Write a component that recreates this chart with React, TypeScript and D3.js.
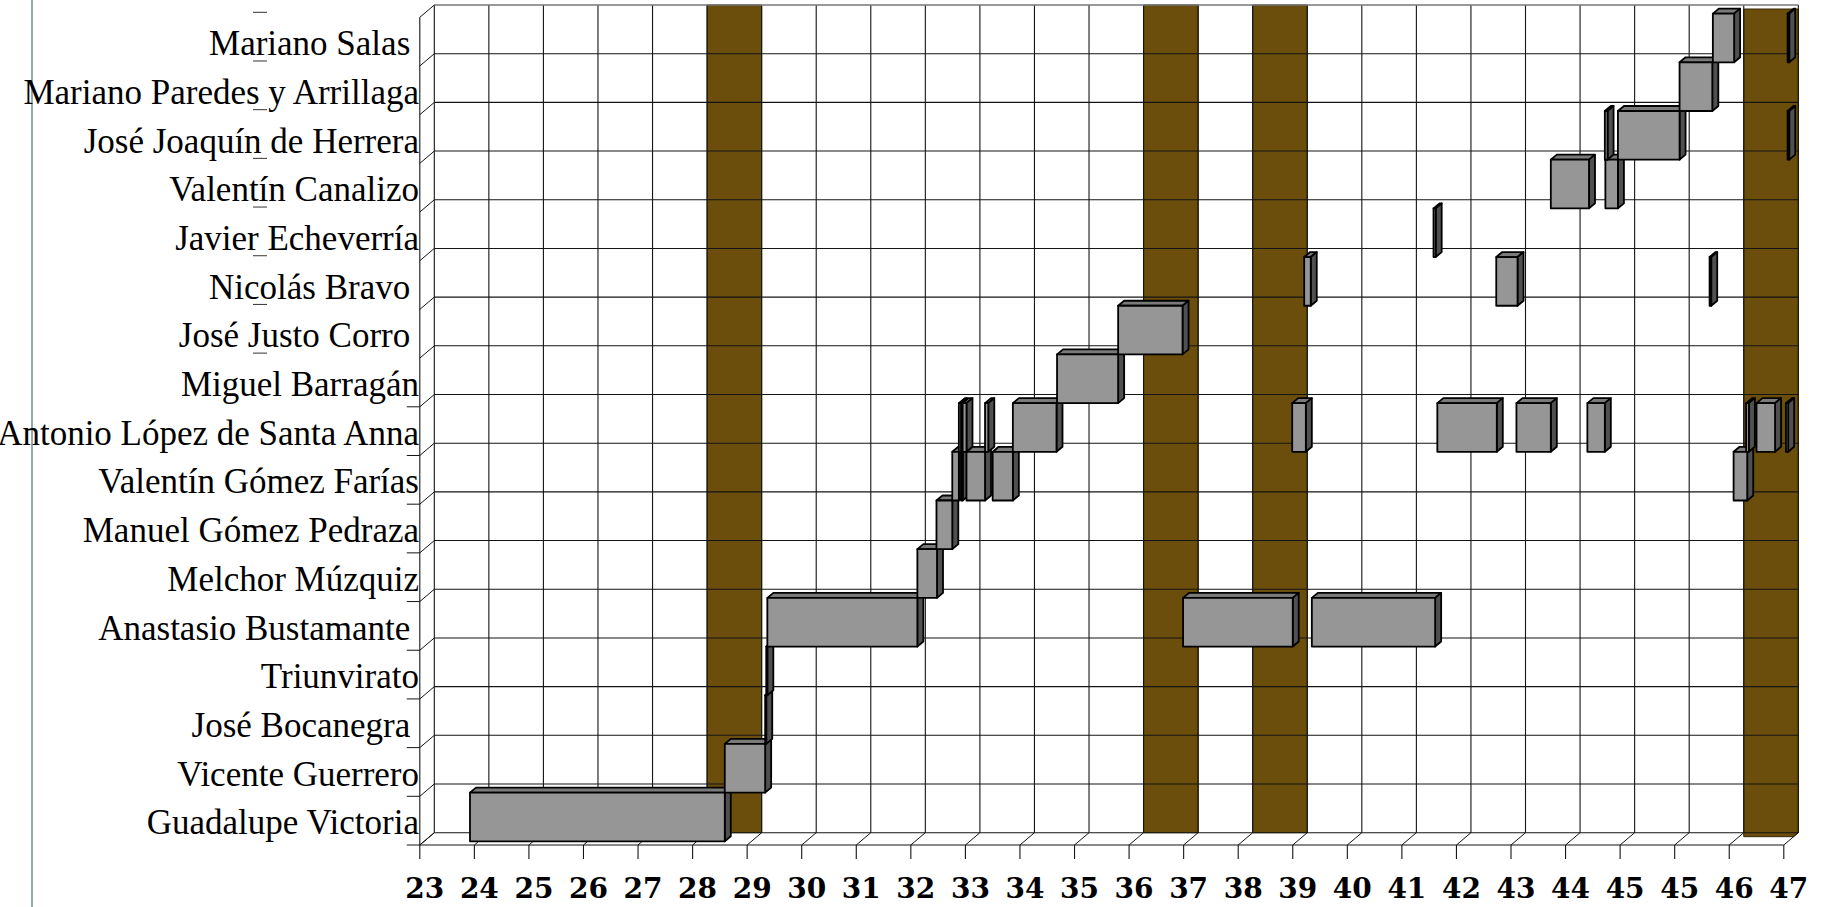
import React from 'react';
import * as d3 from 'd3';

// Categories, bottom row first (names keep the trailing spaces seen in the labels)
const categories: string[] = [
  'Guadalupe Victoria',
  'Vicente Guerrero',
  'José Bocanegra ',
  'Triunvirato',
  'Anastasio Bustamante ',
  'Melchor Múzquiz',
  'Manuel Gómez Pedraza',
  'Valentín Gómez Farías',
  'Antonio López de Santa Anna',
  'Miguel Barragán',
  'José Justo Corro ',
  'Nicolás Bravo ',
  'Javier Echeverría',
  'Valentín Canalizo',
  'José Joaquín de Herrera',
  'Mariano Paredes y Arrillaga',
  'Mariano Salas ',
];

// Axis tick labels (tick i sits at axis position 23 + i)
const tickLabels: string[] = [
  '23', '24', '25', '26', '27', '28', '29', '30', '31', '32', '33', '34', '35',
  '36', '37', '38', '39', '40', '41', '42', '43', '44', '45', '45', '46', '47',
];

// Terms in office: [name, start, end] in axis positions
const terms: [string, number, number][] = [
  ['Guadalupe Victoria', 23.84, 28.51],
  ['Vicente Guerrero', 28.51, 29.25],
  ['José Bocanegra', 29.25, 29.27],
  ['Triunvirato', 29.27, 29.29],
  ['Anastasio Bustamante', 29.29, 32.04],
  ['Melchor Múzquiz', 32.04, 32.4],
  ['Manuel Gómez Pedraza', 32.39, 32.68],
  ['Valentín Gómez Farías', 32.68, 32.8],
  ['Antonio López de Santa Anna', 32.8, 32.84],
  ['Valentín Gómez Farías', 32.84, 32.87],
  ['Antonio López de Santa Anna', 32.87, 32.94],
  ['Valentín Gómez Farías', 32.94, 33.28],
  ['Antonio López de Santa Anna', 33.28, 33.34],
  ['Valentín Gómez Farías', 33.42, 33.79],
  ['Antonio López de Santa Anna', 33.79, 34.59],
  ['Miguel Barragán', 34.6, 35.72],
  ['José Justo Corro', 35.72, 36.9],
  ['Anastasio Bustamante', 36.91, 38.92],
  ['Antonio López de Santa Anna', 38.91, 39.16],
  ['Nicolás Bravo', 39.13, 39.25],
  ['Anastasio Bustamante', 39.27, 41.53],
  ['Javier Echeverría', 41.5, 41.54],
  ['Antonio López de Santa Anna', 41.57, 42.66],
  ['Nicolás Bravo', 42.65, 43.04],
  ['Antonio López de Santa Anna', 43.02, 43.65],
  ['Valentín Canalizo', 43.65, 44.35],
  ['Antonio López de Santa Anna', 44.32, 44.64],
  ['José Joaquín de Herrera', 44.64, 44.69],
  ['Valentín Canalizo', 44.65, 44.88],
  ['José Joaquín de Herrera', 44.88, 46.01],
  ['Mariano Paredes y Arrillaga', 46.01, 46.61],
  ['Nicolás Bravo', 46.56, 46.59],
  ['Mariano Salas', 46.62, 47.01],
  ['Valentín Gómez Farías', 47.0, 47.25],
  ['Antonio López de Santa Anna', 47.23, 47.28],
  ['Antonio López de Santa Anna', 47.42, 47.76],
  ['Antonio López de Santa Anna', 47.96, 48.0],
  ['José Joaquín de Herrera', 47.99, 48.02],
  ['Mariano Salas', 47.99, 48.02],
];

// Shaded (brown) periods: [start, end] in axis positions
const shadedPeriods: [number, number][] = [
  [28, 29],
  [36, 37],
  [38, 39],
  [47, 48],
];

const W = 1828;
const H = 907;
const X0 = 434.3;
const X1 = 1798.3;
const YTOP = 5;
const YBOT = 832.7;
const DX = -14.5; // back -> front offset
const DY = 12.3;
const FRONT = 0.7; // bar front face depth fraction
const BDX = 6;
const BDY = -5;

const GRID = '#141414';
const BROWN = '#6b4e0b';

export default function App() {
  const x = d3
    .scaleLinear()
    .domain([23, 23 + tickLabels.length - 1])
    .range([X0, X1]);
  const y = d3.scaleLinear().domain([0, categories.length]).range([YBOT, YTOP]);
  const ticks = d3.range(tickLabels.length).map((i) => 23 + i);
  const rows = d3.range(categories.length + 1);

  const rowOf = (name: string) => categories.findIndex((c) => c.trim() === name);

  const bars = terms
    .map(([name, s, e], idx) => ({ row: rowOf(name), s, e, idx }))
    .sort((a, b) => a.row - b.row || a.s - b.s);

  const lastBand = shadedPeriods.length - 1;

  return (
    <>
      <style>{`body{margin:0;background:#fff}`}</style>
      <svg width={W} height={H} style={{ display: 'block', background: '#fff' }}>
        {/* left border line */}
        <line x1={32} y1={0} x2={32} y2={H} stroke="#7d9499" strokeWidth={1.6} />

        {/* short dash artifacts */}
        {d3.range(8).map((n) => (
          <line
            key={'dash' + n}
            x1={253}
            x2={267}
            y1={y(categories.length - n) + 7.3}
            y2={y(categories.length - n) + 7.3}
            stroke="#333"
            strokeWidth={1}
          />
        ))}

        {/* shaded periods on back wall */}
        {shadedPeriods.map(([a, b], i) => {
          const off = i === lastBand ? 4 : 0;
          const x0 = x(a);
          const x1 = x(b);
          const pts = [
            [x0, YTOP + off],
            [x1, YTOP + off],
            [x1, YBOT],
            [x1 - (off ? 5 : 0), YBOT + off],
            [x0, YBOT + off],
          ]
            .map((q) => q.join(','))
            .join(' ');
          return <polygon key={'band' + i} points={pts} fill={BROWN} stroke="#3a2a04" strokeWidth={1} />;
        })}

        {/* back wall grid */}
        {ticks.map((t) => (
          <line key={'v' + t} x1={x(t)} x2={x(t)} y1={YTOP} y2={YBOT} stroke={GRID} strokeWidth={1.1} />
        ))}
        {rows.map((r) => (
          <line
            key={'h' + r}
            x1={X0}
            x2={X1}
            y1={y(r)}
            y2={y(r)}
            stroke={r === categories.length ? '#777' : GRID}
            strokeWidth={r === categories.length ? 1.6 : 1.1}
          />
        ))}

        {/* left side wall */}
        <line x1={X0 + DX} x2={X0 + DX} y1={YTOP + DY} y2={YBOT + DY} stroke={GRID} strokeWidth={1.1} />
        {rows.map((r) => (
          <line key={'sd' + r} x1={X0 + DX} y1={y(r) + DY} x2={X0} y2={y(r)} stroke={GRID} strokeWidth={1} />
        ))}
        {/* left ticks (lower rows only) */}
        {rows.slice(0, 10).map((r) => (
          <line key={'lt' + r} x1={X0 + DX - 13} x2={X0 + DX} y1={y(r) + DY} y2={y(r) + DY} stroke={GRID} strokeWidth={1} />
        ))}

        {/* floor */}
        <line
          x1={x(ticks[0]) + DX}
          x2={x(ticks[ticks.length - 1]) + DX}
          y1={YBOT + DY}
          y2={YBOT + DY}
          stroke={GRID}
          strokeWidth={1.2}
        />
        {ticks.map((t) => (
          <g key={'f' + t}>
            <line x1={x(t) + DX} y1={YBOT + DY} x2={x(t)} y2={YBOT} stroke={GRID} strokeWidth={1} />
            <line x1={x(t) + DX} y1={YBOT + DY} x2={x(t) + DX} y2={YBOT + DY + 14} stroke={GRID} strokeWidth={1.1} />
          </g>
        ))}

        {/* 3D bars */}
        {bars.map((b) => {
          const fx0 = x(b.s) + FRONT * DX;
          const fx1 = x(b.e) + FRONT * DX;
          const fyT = y(b.row + 1) + FRONT * DY;
          const fyB = y(b.row) + FRONT * DY;
          const top = [
            [fx0, fyT],
            [fx0 + BDX, fyT + BDY],
            [fx1 + BDX, fyT + BDY],
            [fx1, fyT],
          ];
          const side = [
            [fx1, fyT],
            [fx1 + BDX, fyT + BDY],
            [fx1 + BDX, fyB + BDY],
            [fx1, fyB],
          ];
          const pts = (p: number[][]) => p.map((q) => q.join(',')).join(' ');
          return (
            <g key={'bar' + b.idx} stroke="#000" strokeWidth={1.8} strokeLinejoin="round">
              <polygon points={pts(top)} fill="#7a7a7a" />
              <polygon points={pts(side)} fill="#505050" />
              <rect x={fx0} y={fyT} width={Math.max(fx1 - fx0, 0.1)} height={fyB - fyT} fill="#969696" />
            </g>
          );
        })}

        {/* category labels */}
        {categories.map((c, i) => (
          <text
            key={'cat' + i}
            x={419}
            y={y(i) + DY - 10.7}
            textAnchor="end"
            fontFamily="'Liberation Serif', 'Times New Roman', serif"
            fontSize={35}
            fill="#000"
            style={{ whiteSpace: 'pre' }}
          >
            {c}
          </text>
        ))}

        {/* tick labels */}
        {ticks.map((t, i) => (
          <text
            key={'tl' + i}
            x={x(t) + DX + 5}
            y={898}
            textAnchor="middle"
            fontFamily="'DejaVu Serif', serif"
            fontWeight="bold"
            fontSize={28}
            fill="#000"
          >
            {tickLabels[i]}
          </text>
        ))}
      </svg>
    </>
  );
}
